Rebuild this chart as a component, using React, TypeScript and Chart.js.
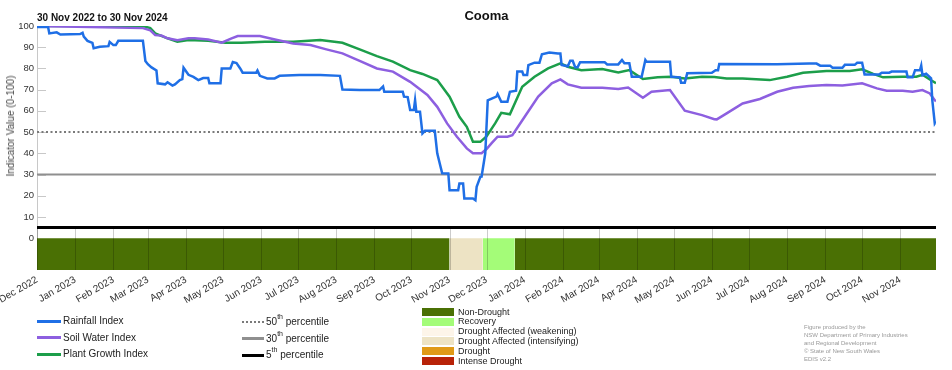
import React, { useEffect, useRef } from "react";
import { Chart, registerables } from "chart.js";
Chart.register(...registerables);

// ---------- DATA ----------
const chartTitle = "Cooma";
const periodLabel = "30 Nov 2022 to 30 Nov 2024";
const yAxisTitle = "Indicator Value (0-100)";

const tickLabels = [
  "Dec 2022", "Jan 2023", "Feb 2023", "Mar 2023", "Apr 2023", "May 2023", "Jun 2023", "Jul 2023",
  "Aug 2023", "Sep 2023", "Oct 2023", "Nov 2023", "Dec 2023", "Jan 2024", "Feb 2024", "Mar 2024",
  "Apr 2024", "May 2024", "Jun 2024", "Jul 2024", "Aug 2024", "Sep 2024", "Oct 2024", "Nov 2024",
];
const yTickValues = [0, 10, 20, 30, 40, 50, 60, 70, 80, 90, 100];
const lastDay = 730; // 30 Nov 2024, days since 1 Dec 2022
const bandBottom = -15;

// [day since 1 Dec 2022, value]
const rainfallIndex: [number, number][] = [
  [0, 99.5], [9, 99.5], [10, 96.5], [16, 97], [19, 96], [35, 96.2], [37, 96.8], [38, 95], [41, 93],
  [45, 92], [46, 89.5], [51, 90.2], [58, 90.5], [59, 92.5], [62, 91], [64, 91], [66, 93], [86, 93],
  [88, 83.5], [90, 82], [93, 80.5], [97, 79], [98, 73], [104, 72.5], [106, 73.5], [110, 71.9],
  [112, 72.5], [116, 74.5], [118, 75], [119, 80.3], [123, 77], [127, 76], [131, 74.5], [135, 75.5],
  [139, 75.5], [140, 73], [149, 73], [150, 80], [157, 80], [159, 83], [162, 82.5], [165, 80],
  [167, 78], [178, 78], [179, 79], [181, 76.5], [187, 75.3], [193, 75.3], [197, 76.5], [213, 76.9],
  [230, 76.9], [246, 76.5], [248, 70.1], [262, 69.8], [278, 69.8], [281, 71.5], [282, 69], [297, 69],
  [298, 66.7], [301, 66.5], [303, 60.4], [306, 60.4], [307, 65], [308, 59.6], [311, 59.6], [313, 49.4],
  [315, 50.6], [323, 50.6], [325, 40], [329, 30.6], [334, 30.5], [335, 22.6], [342, 22.6], [343, 25.8],
  [346, 25.8], [347, 18.7], [354, 18.7], [356, 17.9], [357, 24.2], [360, 28.9], [361, 29], [364, 40],
  [366, 65], [373, 66.7], [374, 68], [377, 64.3], [382, 64.3], [384, 69], [389, 69.5], [390, 78.5],
  [394, 78.5], [395, 76.9], [398, 76.9], [399, 81.6], [404, 82.7], [408, 82.7], [410, 86.7],
  [416, 87.5], [423, 87], [425, 87], [426, 81.6], [431, 81], [433, 83.6], [435, 83.6], [437, 80.6],
  [439, 80.6], [441, 82.9], [461, 82.9], [463, 81.9], [472, 81.9], [475, 84], [477, 82.4], [481, 82.4],
  [483, 76.1], [491, 76.1], [494, 84], [495, 83.2], [514, 83.2], [515, 76.1], [522, 75.8], [523, 73.3],
  [526, 73.3], [528, 77.7], [548, 78], [551, 79.2], [553, 79.2], [554, 82.1], [601, 82], [627, 82.3],
  [633, 82.3], [636, 81.3], [644, 81.3], [646, 80.3], [654, 80.3], [656, 81.7], [664, 81.7],
  [666, 82.7], [670, 82.7], [672, 77.2], [684, 77.2], [686, 78], [692, 78], [694, 78.5], [706, 78.5],
  [707, 75.8], [711, 75.8], [713, 79.2], [717, 79.2], [718, 81.3], [719, 76.8], [722, 77.5],
  [726, 75.3], [727, 65], [729, 54.1], [730, 55],
];

const soilWaterIndex: [number, number][] = [
  [0, 100], [86, 99], [92, 98], [96, 95.7], [101, 95.5], [106, 94.2], [114, 93.3], [123, 94.2],
  [128, 94.2], [139, 93.6], [150, 92.1], [158, 94.2], [163, 95.3], [181, 95.3], [195, 93.4],
  [208, 91.8], [222, 91], [235, 89], [248, 87.1], [262, 83.6], [276, 80], [289, 78.5], [303, 73.7],
  [317, 67.5], [325, 61.9], [333, 54.1], [341, 47.8], [349, 42.3], [354, 40], [361, 40], [365, 42],
  [369, 44.7], [374, 47.8], [382, 47.8], [386, 48.5], [396, 57.2], [407, 66.7], [418, 73], [425, 74.8],
  [431, 72.5], [442, 70.9], [459, 70.9], [472, 70.3], [480, 71], [492, 66.2], [499, 69], [514, 69.8],
  [526, 60.1], [540, 58], [550, 56.1], [552, 56], [560, 58.8], [573, 63.5], [587, 65.6], [601, 69],
  [614, 70.9], [627, 71.7], [641, 72.2], [654, 72], [670, 73], [682, 70.6], [690, 69.5], [703, 69.5],
  [711, 69], [719, 69.8], [725, 68.2], [729, 65], [730, 64.5],
];

const plantGrowthIndex: [number, number][] = [
  [0, 100], [86, 100], [92, 99], [96, 96.5], [106, 94.2], [114, 92.6], [123, 93.4], [139, 93],
  [153, 92.1], [166, 92.1], [185, 92.6], [208, 92.6], [230, 93.4], [248, 92.1], [262, 89], [276, 85.8],
  [289, 83.2], [303, 79.2], [313, 77.4], [325, 74.5], [335, 66.7], [343, 57.2], [349, 52.5],
  [354, 45.4], [360, 45.4], [365, 48], [372, 54.1], [377, 59.1], [384, 58.4], [394, 71.4], [404, 76.1],
  [415, 80], [425, 82.4], [431, 80.8], [442, 79.2], [459, 79.7], [472, 78.1], [481, 79.2], [492, 75],
  [504, 75.8], [515, 76.1], [526, 75.3], [540, 76.1], [550, 76], [560, 75.3], [573, 75.3], [595, 74.5],
  [609, 76.1], [622, 78], [641, 78.8], [660, 78.8], [670, 79.6], [679, 77.4], [687, 75.8], [703, 76.1],
  [714, 76.1], [719, 77], [725, 74.8], [730, 73],
];

const percentile50 = 50;
const percentile30 = 30;
const percentile5 = 5;

const droughtCategories = [
  { name: "Non-Drought", color: "#4a7004" },
  { name: "Recovery", color: "#a4fc78" },
  { name: "Drought Affected (weakening)", color: "#fdf5e9" },
  { name: "Drought Affected (intensifying)", color: "#ede3c4" },
  { name: "Drought", color: "#e09a17" },
  { name: "Intense Drought", color: "#b82208" },
];
// [from day, to day, category index]
const droughtSegments: [number, number, number][] = [
  [0, 335, 0],
  [335, 362, 3],
  [362, 388, 1],
  [388, 730, 0],
];

const seriesColors = { rain: "#1f6fe6", soil: "#8d5fe0", plant: "#1c9e4a" };

// ---------- helpers ----------
const monthIdx: Record<string, number> = {
  Jan: 0, Feb: 1, Mar: 2, Apr: 3, May: 4, Jun: 5, Jul: 6, Aug: 7, Sep: 8, Oct: 9, Nov: 10, Dec: 11,
};
const startUTC = Date.UTC(2022, 11, 1);
const dayOf = (label: string) => {
  const [m, y] = label.split(" ");
  return Math.round((Date.UTC(+y, monthIdx[m], 1) - startUTC) / 86400000);
};
const tickDays = tickLabels.map(dayOf);
const toXY = (arr: [number, number][]) => arr.map(([x, y]) => ({ x, y }));
const flat = (v: number) => [{ x: 0, y: v }, { x: lastDay, y: v }];

const FONT = "'Liberation Sans', Arial, sans-serif";

const gridPlugin = {
  id: "edisGrid",
  beforeDatasetsDraw(chart: any) {
    const { ctx, chartArea, scales } = chart;
    const y = scales.y;
    ctx.save();
    ctx.strokeStyle = "#c8c8c8";
    ctx.lineWidth = 1;
    ctx.beginPath();
    ctx.moveTo(chartArea.left + 0.5, chartArea.top);
    ctx.lineTo(chartArea.left + 0.5, chartArea.bottom);
    for (const v of yTickValues) {
      if (v === 0 || v === 100) continue;
      const py = Math.round(y.getPixelForValue(v)) + 0.5;
      ctx.moveTo(chartArea.left, py);
      ctx.lineTo(chartArea.left + 9, py);
    }
    ctx.stroke();
    ctx.restore();
  },
  afterDatasetsDraw(chart: any) {
    const { ctx, scales } = chart;
    const x = scales.x;
    const y = scales.y;
    ctx.save();
    ctx.strokeStyle = "rgba(0,0,0,0.2)";
    ctx.lineWidth = 1;
    ctx.beginPath();
    const top = y.getPixelForValue(percentile5) + 1.5;
    const bot = y.getPixelForValue(bandBottom);
    for (const d of tickDays) {
      const px = Math.round(x.getPixelForValue(d)) + 0.5;
      ctx.moveTo(px, top);
      ctx.lineTo(px, bot);
    }
    ctx.stroke();
    ctx.restore();
  },
};

export default function App() {
  const ref = useRef<HTMLCanvasElement | null>(null);

  useEffect(() => {
    if (!ref.current) return;
    const line = (data: any[], color: string, width: number, extra: any = {}) => ({
      data,
      borderColor: color,
      borderWidth: width,
      pointRadius: 0,
      pointHoverRadius: 0,
      tension: 0,
      fill: false,
      ...extra,
    });
    const datasets: any[] = [
      line(toXY(rainfallIndex), seriesColors.rain, 2.5),
      line(toXY(soilWaterIndex), seriesColors.soil, 2.5),
      line(toXY(plantGrowthIndex), seriesColors.plant, 2.5),
      line(flat(percentile5), "#000000", 3),
      line(flat(percentile30), "#8f8f8f", 2),
      line(flat(percentile50), "#7a7a7a", 2, { borderDash: [2, 2.5] }),
      ...droughtSegments.map(([a, b, c]) => ({
        data: [{ x: a, y: 0 }, { x: b, y: 0 }],
        borderColor: "transparent",
        borderWidth: 0,
        pointRadius: 0,
        backgroundColor: droughtCategories[c].color,
        fill: { value: bandBottom },
      })),
    ];

    const chart = new Chart(ref.current, {
      type: "line",
      data: { datasets },
      plugins: [gridPlugin],
      options: {
        animation: false,
        responsive: false,
        events: [],
        layout: { padding: { top: 26, right: 16, left: 0, bottom: 0 } },
        plugins: { legend: { display: false }, tooltip: { enabled: false } },
        scales: {
          x: {
            type: "linear",
            min: 0,
            max: lastDay,
            grid: { display: false, drawTicks: false },
            border: { display: false },
            afterBuildTicks: (s: any) => {
              s.ticks = tickDays.map((v) => ({ value: v }));
            },
            afterFit: (s: any) => {
              s.height = 100;
              s.paddingLeft = 0;
              s.paddingRight = 0;
            },
            ticks: {
              autoSkip: false,
              minRotation: 30,
              maxRotation: 30,
              padding: 4,
              color: "#333",
              font: { family: FONT, size: 10 },
              callback: (_v: any, i: number) => tickLabels[i],
            },
          },
          y: {
            type: "linear",
            min: bandBottom,
            max: 100,
            grid: { display: false, drawTicks: false },
            border: { display: false },
            afterBuildTicks: (s: any) => {
              s.ticks = yTickValues.map((v) => ({ value: v }));
            },
            afterFit: (s: any) => {
              s.width = 37;
            },
            ticks: {
              padding: 3,
              color: "#333",
              font: { family: FONT, size: 9.5 },
            },
          },
        },
      } as any,
    });
    return () => chart.destroy();
  }, []);

  const abs = (l: number, t: number, extra: any = {}): React.CSSProperties => ({
    position: "absolute",
    left: l,
    top: t,
    whiteSpace: "nowrap",
    ...extra,
  });

  const lineLegend = [
    { label: "Rainfall Index", color: seriesColors.rain },
    { label: "Soil Water Index", color: seriesColors.soil },
    { label: "Plant Growth Index", color: seriesColors.plant },
  ];
  const pctLegend = [
    { n: "50", style: { borderTop: "2px dotted #7a7a7a" } },
    { n: "30", style: { borderTop: "3px solid #8f8f8f" } },
    { n: "5", style: { borderTop: "3px solid #000" } },
  ];
  const credits = [
    "Figure produced by the",
    "NSW Department of Primary Industries",
    "and Regional Development",
    "© State of New South Wales",
    "EDIS v2.2",
  ];
  const rowY = [321, 337.5, 354];

  return (
    <div style={{ position: "absolute", left: 0, top: 0, width: 952, height: 370, background: "#fff", fontFamily: FONT, overflow: "hidden" }}>
      <canvas ref={ref} width={952} height={370} style={{ position: "absolute", left: 0, top: 0, width: 952, height: 370 }} />
      <div style={abs(0, 8, { width: 973, textAlign: "center", fontWeight: "bold", fontSize: 13, color: "#111", lineHeight: "16px" })}>{chartTitle}</div>
      <div style={abs(37, 12, { fontWeight: "bold", fontSize: 10, color: "#111", lineHeight: "12px" })}>{periodLabel}</div>
      <div style={abs(11, 126, { fontSize: 10, color: "#444", lineHeight: "12px", transform: "translate(-50%, -50%) rotate(-90deg)" })}>{yAxisTitle}</div>

      {lineLegend.map((d, i) => (
        <React.Fragment key={d.label}>
          <div style={abs(37, rowY[i] - 1.5, { width: 24, height: 3, background: d.color })} />
          <div style={abs(63, rowY[i] - 6, { fontSize: 10, color: "#222", lineHeight: "12px" })}>{d.label}</div>
        </React.Fragment>
      ))}
      {pctLegend.map((d, i) => (
        <React.Fragment key={d.n}>
          <div style={abs(242, rowY[i] + 1 - 1.5, { width: 22, height: 0, ...d.style })} />
          <div style={abs(266, rowY[i] + 1 - 6, { fontSize: 10, color: "#222", lineHeight: "12px" })}>
            {d.n}
            <sup style={{ fontSize: 7, verticalAlign: "top", lineHeight: "8px", position: "relative", top: -3 }}>th</sup> percentile
          </div>
        </React.Fragment>
      ))}
      {droughtCategories.map((c, i) => (
        <React.Fragment key={c.name}>
          <div style={abs(422, 312 + i * 9.8 - 4, { width: 32, height: 8, background: c.color })} />
          <div style={abs(458, 312 + i * 9.8 - 5.5, { fontSize: 9, color: "#222", lineHeight: "11px" })}>{c.name}</div>
        </React.Fragment>
      ))}
      {credits.map((t, i) => (
        <div key={t} style={abs(804, 326.5 + i * 8 - 4, { fontSize: 6, color: "#999", lineHeight: "8px" })}>{t}</div>
      ))}
    </div>
  );
}
